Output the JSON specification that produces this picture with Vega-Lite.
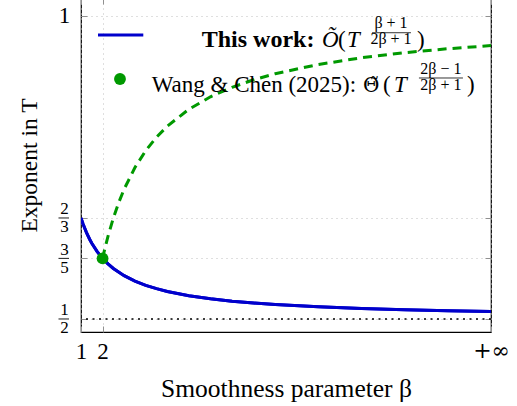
{
  "$schema": "https://vega.github.io/schema/vega-lite/v6.json",
  "width": 410,
  "height": 334,
  "autosize": {"type": "none"},
  "padding": {"left": 81, "top": -2, "right": 26, "bottom": 74},
  "config": {
    "view": {"stroke": "black", "strokeWidth": 1.2},
    "font": "Liberation Serif",
    "axis": {
      "domain": false,
      "labelFont": "Liberation Serif",
      "titleFont": "Liberation Serif",
      "labelColor": "black",
      "titleColor": "black",
      "titleFontWeight": "normal",
      "tickColor": "#909090",
      "tickSize": -6,
      "tickWidth": 1,
      "gridColor": "#bfbfbf",
      "gridDash": [1, 4],
      "gridWidth": 1,
      "labelOverlap": false,
      "labelBound": false,
      "labelFlush": false
    }
  },
  "datasets": {
    "thisWork": [
      {"beta": 1, "value": 0.666667},
      {"beta": 1.1, "value": 0.65625},
      {"beta": 1.25, "value": 0.642857},
      {"beta": 1.4, "value": 0.631579},
      {"beta": 1.5, "value": 0.625},
      {"beta": 1.75, "value": 0.611111},
      {"beta": 2, "value": 0.6},
      {"beta": 2.25, "value": 0.590909},
      {"beta": 2.5, "value": 0.583333},
      {"beta": 3, "value": 0.571429},
      {"beta": 3.5, "value": 0.5625},
      {"beta": 4, "value": 0.555556},
      {"beta": 4.5, "value": 0.55},
      {"beta": 5, "value": 0.545455},
      {"beta": 6, "value": 0.538462},
      {"beta": 7, "value": 0.533333},
      {"beta": 8, "value": 0.529412},
      {"beta": 9, "value": 0.526316},
      {"beta": 10, "value": 0.52381},
      {"beta": 12, "value": 0.52},
      {"beta": 14, "value": 0.517241},
      {"beta": 16, "value": 0.515152},
      {"beta": 18, "value": 0.513514},
      {"beta": 20, "value": 0.512195}
    ],
    "wangChen": [
      {"beta": 2, "value": 0.6},
      {"beta": 2.1, "value": 0.615385},
      {"beta": 2.25, "value": 0.636364},
      {"beta": 2.5, "value": 0.666667},
      {"beta": 2.75, "value": 0.692308},
      {"beta": 3, "value": 0.714286},
      {"beta": 3.5, "value": 0.75},
      {"beta": 4, "value": 0.777778},
      {"beta": 4.5, "value": 0.8},
      {"beta": 5, "value": 0.818182},
      {"beta": 6, "value": 0.846154},
      {"beta": 7, "value": 0.866667},
      {"beta": 8, "value": 0.882353},
      {"beta": 9, "value": 0.894737},
      {"beta": 10, "value": 0.904762},
      {"beta": 12, "value": 0.92},
      {"beta": 14, "value": 0.931034},
      {"beta": 16, "value": 0.939394},
      {"beta": 18, "value": 0.945946},
      {"beta": 20, "value": 0.95122}
    ],
    "meet": [{"beta": 2, "value": 0.6}],
    "fractionTicks": [{"value": 0.5}, {"value": 0.6}, {"value": 0.666667}]
  },
  "layer": [
    {
      "layer": [
        {
          "data": {"name": "thisWork"},
          "mark": {"type": "line", "color": "#0000cc", "strokeWidth": 3, "clip": true},
          "encoding": {
            "x": {
              "field": "beta", "type": "quantitative",
              "scale": {"domain": [1, 20], "nice": false, "zero": false},
              "axis": {
                "values": [1, 2, 20],
                "labelExpr": "datum.value == 20 ? '+∞' : datum.label",
                "labelFont": {"condition": {"test": "datum.value == 20", "value": "DejaVu Serif"}, "value": "Liberation Serif"},
                "labelFontSize": {"condition": {"test": "datum.value == 20", "value": 22}, "value": 23},
                "labelPadding": 14,
                "grid": true,
                "title": "Smoothness parameter β",
                "titleFontSize": 25.5,
                "titlePadding": 13
              }
            },
            "y": {
              "field": "value", "type": "quantitative",
              "scale": {"domain": [0.4785, 1.0297], "nice": false, "zero": false},
              "axis": {
                "values": [0.5, 0.6, 0.666667, 1],
                "labelExpr": "datum.value == 1 ? '1' : datum.value == 0.5 ? ['1', '2'] : datum.value < 0.65 ? ['3', '5'] : ['2', '3']",
                "labelFontSize": {"condition": {"test": "datum.value == 1", "value": 23}, "value": 17},
                "labelOffset": {"condition": {"test": "datum.value == 1", "value": 0}, "value": -9},
                "labelLineHeight": 18,
                "labelAlign": "center",
                "labelBaseline": "middle",
                "labelPadding": 23,
                "grid": true,
                "title": "Exponent in T",
                "titleFontSize": 23.5,
                "titlePadding": 17
              }
            }
          }
        },
        {
          "data": {"values": [{}]},
          "mark": {"type": "rule", "color": "black", "strokeWidth": 1.6, "strokeDash": [2, 4.5]},
          "encoding": {"y": {"datum": 0.5}}
        },
        {
          "data": {"name": "thisWork"},
          "mark": {"type": "line", "color": "#0000cc", "strokeWidth": 3, "clip": true},
          "encoding": {
            "x": {"field": "beta", "type": "quantitative"},
            "y": {"field": "value", "type": "quantitative"}
          }
        },
        {
          "data": {"name": "wangChen"},
          "mark": {"type": "line", "color": "#009900", "strokeWidth": 3, "strokeDash": [9, 6], "clip": true},
          "encoding": {
            "x": {"field": "beta", "type": "quantitative"},
            "y": {"field": "value", "type": "quantitative"}
          }
        },
        {
          "data": {"name": "meet"},
          "mark": {"type": "point", "filled": true, "color": "#009900", "size": 140, "opacity": 1},
          "encoding": {
            "x": {"field": "beta", "type": "quantitative"},
            "y": {"field": "value", "type": "quantitative"}
          }
        },
        {
          "data": {"name": "fractionTicks"},
          "mark": {"type": "rule", "color": "black", "strokeWidth": 0.9},
          "encoding": {
            "x": {"datum": -0.043},
            "x2": {"datum": 0.444},
            "y": {"field": "value", "type": "quantitative"}
          }
        },
        {
          "data": {"values": [{}]},
          "mark": {"type": "rule", "color": "#0000cc", "strokeWidth": 3},
          "encoding": {"x": {"datum": 1.788}, "x2": {"datum": 3.887}, "y": {"datum": 0.9686}}
        },
        {
          "data": {"values": [{}]},
          "mark": {"type": "text", "text": "This work:", "fontSize": 24, "fontWeight": "bold", "align": "left", "baseline": "alphabetic"},
          "encoding": {"x": {"datum": 6.593}, "y": {"datum": 0.9493}}
        },
        {
          "data": {"values": [{}]},
          "mark": {"type": "text", "text": "Õ", "fontSize": 23, "fontStyle": "italic", "align": "left", "baseline": "alphabetic"},
          "encoding": {"x": {"datum": 12.168}, "y": {"datum": 0.9493}}
        },
        {
          "data": {"values": [{}]},
          "mark": {"type": "text", "text": "(", "fontSize": 23, "align": "left", "baseline": "alphabetic"},
          "encoding": {"x": {"datum": 12.91}, "y": {"datum": 0.9493}}
        },
        {
          "data": {"values": [{}]},
          "mark": {"type": "text", "text": "T", "fontSize": 23, "fontStyle": "italic", "align": "left", "baseline": "alphabetic"},
          "encoding": {"x": {"datum": 13.33}, "y": {"datum": 0.9493}}
        },
        {
          "data": {"values": [{}]},
          "mark": {"type": "text", "text": "β + 1", "fontSize": 16, "align": "center", "baseline": "alphabetic"},
          "encoding": {"x": {"datum": 15.366}, "y": {"datum": 0.9802}}
        },
        {
          "data": {"values": [{}]},
          "mark": {"type": "rule", "color": "black", "strokeWidth": 0.8},
          "encoding": {"x": {"datum": 14.49}, "x2": {"datum": 16.29}, "y": {"datum": 0.9724}}
        },
        {
          "data": {"values": [{}]},
          "mark": {"type": "text", "text": "2β + 1", "fontSize": 16, "align": "center", "baseline": "alphabetic"},
          "encoding": {"x": {"datum": 15.366}, "y": {"datum": 0.9538}}
        },
        {
          "data": {"values": [{}]},
          "mark": {"type": "text", "text": ")", "fontSize": 23, "align": "left", "baseline": "alphabetic"},
          "encoding": {"x": {"datum": 16.57}, "y": {"datum": 0.9493}}
        },
        {
          "data": {"values": [{}]},
          "mark": {"type": "point", "filled": true, "color": "#009900", "size": 140, "opacity": 1},
          "encoding": {"x": {"datum": 2.807}, "y": {"datum": 0.896}}
        },
        {
          "data": {"values": [{}]},
          "mark": {"type": "text", "text": "Wang & Chen (2025):", "fontSize": 23, "align": "left", "baseline": "alphabetic"},
          "encoding": {"x": {"datum": 4.276}, "y": {"datum": 0.8751}}
        },
        {
          "data": {"values": [{}]},
          "mark": {"type": "text", "text": "Θ̃", "font": "DejaVu Serif", "fontSize": 20, "align": "left", "baseline": "alphabetic"},
          "encoding": {"x": {"datum": 14.07}, "y": {"datum": 0.8751}}
        },
        {
          "data": {"values": [{}]},
          "mark": {"type": "text", "text": "(", "fontSize": 23, "align": "left", "baseline": "alphabetic"},
          "encoding": {"x": {"datum": 14.99}, "y": {"datum": 0.8751}}
        },
        {
          "data": {"values": [{}]},
          "mark": {"type": "text", "text": "T", "fontSize": 23, "fontStyle": "italic", "align": "left", "baseline": "alphabetic"},
          "encoding": {"x": {"datum": 15.5}, "y": {"datum": 0.8751}}
        },
        {
          "data": {"values": [{}]},
          "mark": {"type": "text", "text": "2β − 1", "fontSize": 16, "align": "center", "baseline": "alphabetic"},
          "encoding": {"x": {"datum": 17.68}, "y": {"datum": 0.9043}}
        },
        {
          "data": {"values": [{}]},
          "mark": {"type": "rule", "color": "black", "strokeWidth": 0.8},
          "encoding": {"x": {"datum": 16.66}, "x2": {"datum": 18.7}, "y": {"datum": 0.8977}}
        },
        {
          "data": {"values": [{}]},
          "mark": {"type": "text", "text": "2β + 1", "fontSize": 16, "align": "center", "baseline": "alphabetic"},
          "encoding": {"x": {"datum": 17.68}, "y": {"datum": 0.8779}}
        },
        {
          "data": {"values": [{}]},
          "mark": {"type": "text", "text": ")", "fontSize": 23, "align": "left", "baseline": "alphabetic"},
          "encoding": {"x": {"datum": 18.89}, "y": {"datum": 0.8751}}
        }
      ]
    },
    {
      "data": {"name": "meet"},
      "mark": {"type": "point", "opacity": 0},
      "encoding": {
        "x": {
          "field": "beta", "type": "quantitative",
          "axis": {"orient": "top", "values": [1, 2, 20], "labels": false, "title": null, "grid": false}
        },
        "y": {
          "field": "value", "type": "quantitative",
          "axis": {"orient": "right", "values": [0.5, 0.6, 0.666667, 1], "labels": false, "title": null, "grid": false}
        }
      }
    }
  ],
  "resolve": {"axis": {"x": "independent", "y": "independent"}}
}
